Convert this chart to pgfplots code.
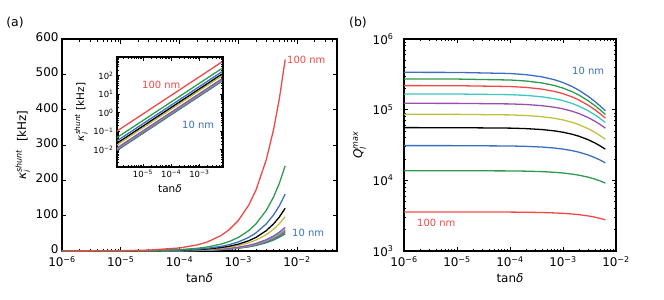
\documentclass[border=0pt]{standalone}
\usepackage{fontspec}
\setmainfont{DejaVu Sans}
\usepackage{amsmath}
\usepackage{pgfplots}
\usepackage{pgfplotstable}
\pgfplotsset{compat=1.18}
\definecolor{c1}{HTML}{3A6FC0}
\definecolor{c2}{HTML}{2E9A4E}
\definecolor{c3}{HTML}{F04848}
\definecolor{c4}{HTML}{3CC8C0}
\definecolor{c5}{HTML}{9A4FB0}
\definecolor{c6}{HTML}{C0C040}
\definecolor{c7}{HTML}{000000}
\definecolor{c8}{HTML}{3A6FC0}
\definecolor{c9}{HTML}{2E9A4E}
\definecolor{c10}{HTML}{F04848}

\pgfplotstableread{
t k1 k2 k3 k4 k5 k6 k7 k8 k9 k10
1e-6 0.00778 0.00841 0.00905 0.00968 0.01063 0.0154 0.0192 0.02556 0.03825 0.08603
1e-5 0.0778 0.0841 0.0905 0.0968 0.1063 0.154 0.192 0.2556 0.3825 0.8603
3e-5 0.2333 0.2524 0.2714 0.2905 0.3190 0.4619 0.5762 0.7667 1.1476 2.581
1e-4 0.778 0.841 0.905 0.968 1.063 1.540 1.921 2.556 3.825 8.603
2e-4 1.556 1.683 1.810 1.937 2.127 3.079 3.841 5.111 7.651 17.21
3e-4 2.333 2.524 2.714 2.905 3.190 4.619 5.762 7.667 11.48 25.81
5e-4 3.889 4.206 4.524 4.841 5.317 7.698 9.603 12.78 19.13 43.02
7e-4 5.444 5.889 6.333 6.778 7.444 10.78 13.44 17.89 26.78 60.22
1e-3 7.778 8.413 9.048 9.683 10.63 15.40 19.21 25.56 38.25 86.03
1.5e-3 11.67 12.62 13.57 14.52 15.95 23.10 28.81 38.33 57.38 129.05
2e-3 15.56 16.83 18.10 19.37 21.27 30.79 38.41 51.11 76.51 172.06
3e-3 23.33 25.24 27.14 29.05 31.90 46.19 57.62 76.67 114.76 258.10
4e-3 31.11 33.65 36.19 38.73 42.54 61.59 76.83 102.22 153.02 344.13
5e-3 38.89 42.06 45.24 48.41 53.17 76.98 96.03 127.78 191.27 430.16
6.3e-3 49 53 57 61 67 97 121 161 241 542
}\kappatab

\pgfplotstableread{
t q1 q2 q3 q4 q5 q6 q7 q8 q9 q10
1e-6 3.378e5 2.7194e5 2.1895e5 1.6696e5 1.2298e5 8.598e4 5.569e4 3.0996e4 1.3699e4 3569.9
1e-5 3.3661e5 2.7110e5 2.1835e5 1.6660e5 1.2276e5 8.583e4 5.561e4 3.0963e4 1.3689e4 3568.4
1e-4 3.2503e5 2.6293e5 2.1264e5 1.6302e5 1.2062e5 8.431e4 5.481e4 3.0633e4 1.3592e4 3553.5
2e-4 3.1307e5 2.5443e5 2.0663e5 1.5922e5 1.1832e5 8.269e4 5.396e4 3.0275e4 1.3486e4 3537.2
4e-4 2.9160e5 2.3896e5 1.9557e5 1.5212e5 1.1398e5 7.962e4 5.232e4 2.9583e4 1.3279e4 3504.9
7e-4 2.6440e5 2.1899e5 1.8104e5 1.4260e5 1.0804e5 7.543e4 5.004e4 2.8602e4 1.2980e4 3457.6
1e-3 2.4184e5 2.0210e5 1.6852e5 1.3419e5 1.0269e5 7.165e4 4.795e4 2.7684e4 1.2694e4 3411.6
1.5e-3 2.1173e5 1.7908e5 1.5110e5 1.2219e5 9.486e4 6.614e4 4.482e4 2.6278e4 1.2245e4 3337.5
2e-3 1.8829e5 1.6077e5 1.3695e5 1.1216e5 8.814e4 6.141e4 4.209e4 2.5009e4 1.1826e4 3266.7
3e-3 1.5415e5 1.3348e5 1.1534e5 9.634e4 7.720e4 5.373e4 3.750e4 2.2805e4 1.1069e4 3133.5
4e-3 1.3050e5 1.1410e5 9.962e4 8.443e4 6.867e4 4.776e4 3.382e4 2.0958e4 1.0403e4 3010.8
5e-3 1.1314e5 9.964e4 8.767e4 7.514e4 6.184e4 4.298e4 3.079e4 1.9388e4 9812 2897.3
6.3e-3 9.645e4 8.554e4 7.585e4 6.574e4 5.476e4 3.803e4 2.759e4 1.7668e4 9138 2762.0
}\qtab

\newcommand{\tickfont}{\fontsize{12}{14}\selectfont}
\newcommand{\annfont}{\fontsize{10}{11}\selectfont}
\pgfplotsset{
  common/.style={
    scale only axis,
    axis line style={line width=1.6pt},
    every tick/.style={black, line width=0.8pt},
    major tick length=4.5bp, minor tick length=2.5bp,
    tick label style={font=\tickfont},
    label style={font=\tickfont},
    /pgf/number format/assume math mode=true,
    log basis x=10, log basis y=10,
  },
  negexp x/.style={xticklabel={10\textsuperscript{−\pgfmathparse{int(round(-\tick))}\pgfmathresult}}},
  posexp y/.style={yticklabel={10\textsuperscript{\pgfmathparse{int(round(\tick))}\pgfmathresult}}},
  negposexp y/.style={yticklabel={10\textsuperscript{\pgfmathparse{int(round(\tick))}\ifnum\pgfmathresult<0 −\pgfmathparse{int(-\pgfmathresult)}\fi\pgfmathresult}}},
}

\begin{document}
\begin{tikzpicture}
\useasboundingbox (0,0) rectangle (664bp,-300bp);

% panel (a)
\begin{axis}[common, negexp x,
  at={(62bp,-251bp)}, anchor=south west, width=275bp, height=212bp,
  xmode=log, xmin=1e-6, xmax=4.8e-2,
  ymin=0, ymax=600, ytick={0,100,...,600},
  xticklabel style={yshift=-2bp},
  yticklabel style={yshift=2bp},
  xlabel={tan\textit{δ}},
  ylabel={\textit{κ}$_{\textit{i}}^{\textit{shunt}}$\ \ [kHz]},
  ylabel style={yshift=-1bp},
]
\pgfplotsinvokeforeach{1,...,10}{\addplot[color=c#1, line width=1.3pt] table[x=t,y=k#1]{\kappatab};}
\end{axis}

% inset
\begin{axis}[common, negexp x, negposexp y,
  at={(117bp,-167bp)}, anchor=south west, width=106bp, height=110bp,
  axis background/.style={fill=white},
  axis line style={line width=1.4pt},
  xmode=log, ymode=log, xmin=1.2e-6, xmax=6.9e-3, ymin=1.2e-3, ymax=1e3,
  xtick={1e-5,1e-4,1e-3}, ytick={1e-2,1e-1,1,1e1,1e2},
  minor xtick={2e-6,3e-6,4e-6,5e-6,6e-6,7e-6,8e-6,9e-6,2e-5,3e-5,4e-5,5e-5,6e-5,7e-5,8e-5,9e-5,2e-4,3e-4,4e-4,5e-4,6e-4,7e-4,8e-4,9e-4,2e-3,3e-3,4e-3,5e-3,6e-3},
  minor ytick={2e-3,3e-3,4e-3,5e-3,6e-3,7e-3,8e-3,9e-3,2e-2,3e-2,4e-2,5e-2,6e-2,7e-2,8e-2,9e-2,0.2,0.3,0.4,0.5,0.6,0.7,0.8,0.9,2,3,4,5,6,7,8,9,20,30,40,50,60,70,80,90,200,300,400,500,600,700,800,900},
  major tick length=3.5bp, minor tick length=2bp,
  tick label style={font=\fontsize{8.5}{9.5}\selectfont},
  label style={font=\fontsize{10.5}{12}\selectfont},
  xlabel={tan\textit{δ}},
  ylabel={\textit{κ}$_{\textit{i}}^{\textit{shunt}}$\ [kHz]},
  ylabel style={yshift=-1bp},
]
\pgfplotsinvokeforeach{1,...,10}{\addplot[color=c#1, line width=1.3pt] table[x=t,y=k#1]{\kappatab};}
\end{axis}

% panel (b)
\begin{axis}[common, negexp x, posexp y,
  at={(404bp,-251bp)}, anchor=south west, width=212bp, height=212bp,
  xmode=log, ymode=log, xmin=1e-6, xmax=1e-2, ymin=1e3, ymax=1e6,
  xticklabel style={yshift=-2bp},
  yticklabel style={xshift=-7bp},
  xlabel={tan\textit{δ}},
  ylabel={\textit{Q}$_{\textit{l}}^{\textit{max}}$},
]
\pgfplotsinvokeforeach{1,...,10}{\addplot[color=c#1, line width=1.3pt] table[x=t,y=q#1]{\qtab};}
\end{axis}

% annotations
\node[font=\fontsize{12.5}{14}\selectfont] at (15bp,-23bp) {(a)};
\node[font=\fontsize{12.5}{14}\selectfont] at (358bp,-23bp) {(b)};
\node[font=\annfont, text=c3, anchor=west, inner sep=0] at (287bp,-60bp) {100 nm};
\node[font=\annfont, text=c1, anchor=west, inner sep=0] at (292bp,-233bp) {10 nm};
\node[font=\annfont, text=c3, anchor=west, inner sep=0] at (142bp,-85bp) {100 nm};
\node[font=\annfont, text=c1, anchor=west, inner sep=0] at (182bp,-125bp) {10 nm};
\node[font=\annfont, text=c1, anchor=west, inner sep=0] at (572bp,-71bp) {10 nm};
\node[font=\annfont, text=c3, anchor=west, inner sep=0] at (417bp,-223bp) {100 nm};
\end{tikzpicture}
\end{document}
